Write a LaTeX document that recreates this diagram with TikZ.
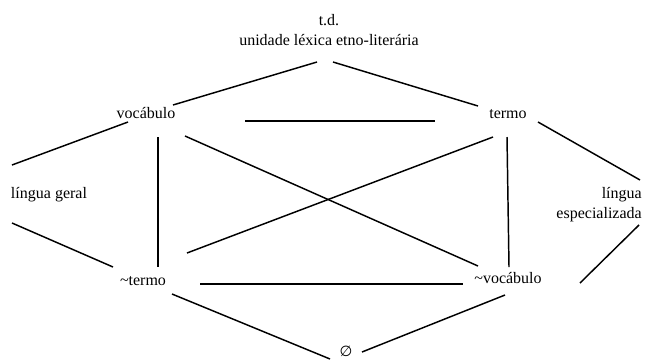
\documentclass[tikz,border=0pt]{standalone}
\usepackage{fontspec}
\setmainfont{Liberation Serif}
\newfontfamily\symfont{DejaVu Sans}
\usetikzlibrary{positioning}

\begin{document}
\begin{tikzpicture}[
    x=0.75pt, y=-0.75pt,
    font=\fontsize{12}{15}\selectfont,
    % --- styles ---
    lex/.style={inner sep=0pt, outer sep=0pt, anchor=base},
    link/.style={line width=1.1pt}
]
\useasboundingbox (0,0) rectangle (655,361);

% --- 1. nodes ---
\node[inner sep=0pt, align=center] (td) at (329,30) {t.d.\\ unidade léxica etno-literária};
\node[lex] (voc) at (146,118) {vocábulo};
\node[lex] (ter) at (508,118) {termo};
\node[lex, anchor=base west] (lg) at (11,198) {língua geral};
\node[inner sep=0pt, align=right, anchor=east] (le) at (642,205) {língua\\ especializada};
\node[lex] (nter) at (143,285) {\textasciitilde termo};
\node[lex] (nvoc) at (508,283) {\textasciitilde vocábulo};
\node[inner sep=0pt] (vazio) at (346,351) {\symfont\fontsize{11}{13}\selectfont ∅};

% --- 2. links ---
\draw[link] ([shift={(27,-13)}]voc.base) -- ([shift={(-12,32)}]td.center);
\draw[link] ([shift={(4,32)}]td.center) -- ([shift={(-30,-12)}]ter.base);
\draw[link] ([shift={(-18,4)}]voc.base) -- ([shift={(1,-33)}]lg.base west);
\draw[link] ([shift={(1,25)}]lg.base west) -- ([shift={(-30,-18)}]nter.base);
\draw[link] ([shift={(12,19)}]voc.base) -- ([shift={(15,-18)}]nter.base);
\draw[link] ([shift={(39,18)}]voc.base) -- ([shift={(-30,-17)}]nvoc.base);
\draw[link] ([shift={(44,-32)}]nter.base) -- ([shift={(-15,19)}]ter.base);
\draw[link] ([shift={(-1,19)}]ter.base) -- ([shift={(1,-16)}]nvoc.base);
\draw[link] ([shift={(30,4)}]ter.base) -- ([shift={(-2,-25)}]le.east);
\draw[link] ([shift={(-3,20)}]le.east) -- ([shift={(72,0)}]nvoc.base);
\draw[link] ([shift={(99,3)}]voc.base) -- ([shift={(-73,3)}]ter.base);
\draw[link] ([shift={(57,-1)}]nter.base) -- ([shift={(-45,1)}]nvoc.base);
\draw[link] ([shift={(29,9)}]nter.base) -- ([shift={(-16,8)}]vazio.center);
\draw[link] ([shift={(-3,12)}]nvoc.base) -- ([shift={(16,1)}]vazio.center);

\end{tikzpicture}
\end{document}
